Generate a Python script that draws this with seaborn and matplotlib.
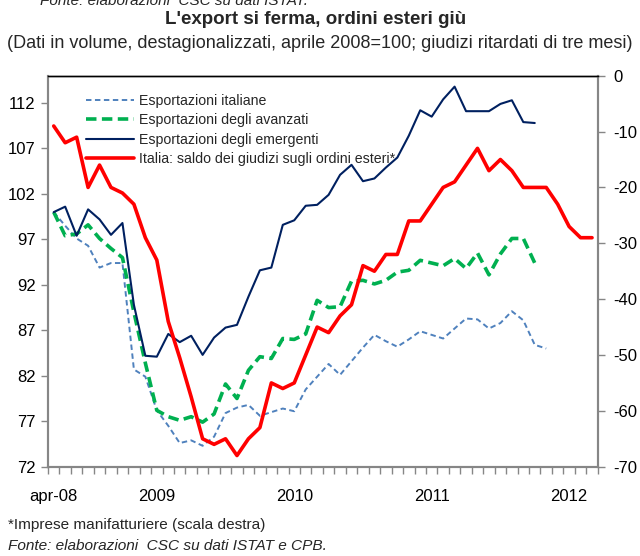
import numpy as np
import pandas as pd
import matplotlib
matplotlib.use("Agg")
import matplotlib.pyplot as plt
import seaborn as sns

# monthly categories apr-08 .. mar-12
months = pd.period_range("2008-04", periods=48, freq="M")
tick_pos = [0, 9, 21, 33, 45]
tick_labels = ["apr-08", "2009", "2010", "2011", "2012"]

exp_italiane = [100, 98.5, 97.1, 96.3, 93.9, 94.4, 94.4, 82.7, 81.9, 78.2,
                76.5, 74.6, 74.9, 74.3, 75.3, 77.9, 78.5, 78.8, 77.6, 78.0,
                78.4, 78.1, 80.5, 81.9, 83.3, 82.1, 83.6, 85.1, 86.5, 85.8,
                85.2, 86.0, 86.9, 86.5, 86.1, 87.2, 88.3, 88.2, 87.2, 87.8,
                89.1, 88.1, 85.4, 85.0]
exp_avanzati = [100, 97.4, 97.6, 98.6, 97.1, 96.0, 95.0, 89.0, 83.4, 78.2,
                77.5, 77.1, 77.5, 76.9, 77.8, 81.1, 79.5, 82.6, 84.1, 83.9,
                86.1, 86.0, 86.6, 90.3, 89.5, 89.6, 92.4, 92.5, 92.1, 92.5,
                93.4, 93.6, 94.7, 94.4, 94.1, 94.9, 93.8, 95.5, 93.1, 95.4,
                97.1, 97.1, 94.4]
exp_emergenti = [100, 100.6, 97.4, 100.3, 99.2, 97.5, 98.8, 89.8, 84.2, 84.1,
                 86.6, 85.7, 86.4, 84.3, 86.2, 87.3, 87.6, 90.7, 93.6, 93.9,
                 98.6, 99.1, 100.7, 100.8, 101.9, 104.1, 105.2, 103.4, 103.7, 104.9,
                 106.0, 108.4, 111.2, 110.5, 112.4, 113.8, 111.1, 111.1, 111.1, 111.9,
                 112.3, 109.9, 109.8]
ordini_esteri = [-9, -12, -11, -20, -16, -20, -21, -23, -29, -33,
                 -44, -50.5, -57.5, -65, -66, -65, -68, -65, -63, -55,
                 -56, -55, -50, -45, -46, -43, -41, -34, -35, -32,
                 -32, -26, -26, -23, -20, -19, -16, -13, -17, -15,
                 -17, -20, -20, -20, -23, -27, -29, -29]

sns.set_theme(style="white")
plt.rcParams["font.family"] = ["Liberation Sans", "DejaVu Sans"]
plt.rcParams["axes.unicode_minus"] = False

GREY = "#868686"
fig = plt.figure(figsize=(6.4, 5.56), dpi=100)
ax = fig.add_axes([0.075, 0.1606, 0.859, 0.7032])
ax2 = ax.twinx()

x_all = np.arange(len(months))
sns.lineplot(x=x_all[:len(exp_italiane)], y=exp_italiane, ax=ax, color="#4F81BD",
             linewidth=1.4, linestyle=(0, (2.8, 1.8)), label="Esportazioni italiane")
sns.lineplot(x=x_all[:len(exp_avanzati)], y=exp_avanzati, ax=ax, color="#00B050",
             linewidth=2.6, linestyle=(0, (2.9, 1.5)), label="Esportazioni degli avanzati")
sns.lineplot(x=x_all[:len(exp_emergenti)], y=exp_emergenti, ax=ax, color="#002060",
             linewidth=1.5, label="Esportazioni degli emergenti")
sns.lineplot(x=x_all, y=ordini_esteri, ax=ax2, color="#FF0000", linewidth=2.6,
             label="Italia: saldo dei giudizi sugli ordini esteri*")

handles = ax.get_legend_handles_labels()[0] + ax2.get_legend_handles_labels()[0]
labels = ax.get_legend_handles_labels()[1] + ax2.get_legend_handles_labels()[1]
ax.get_legend().remove()
ax2.get_legend().remove()
ax2.legend(handles, labels, loc="upper left", bbox_to_anchor=(0.058, 0.968),
           frameon=False, fontsize=10.2, handlelength=3.4, handletextpad=0.4,
           labelspacing=0.38, borderaxespad=0)

ax.set_xlim(-0.5, 47.5)
ax.set_ylim(72, 115)
ax2.set_ylim(-70, 0)
ax.set_yticks(np.arange(72, 113, 5))
ax2.set_yticks(np.arange(-70, 1, 10))
ax.set_xticks(tick_pos)
ax.set_xticklabels(tick_labels)
ax.set_xticks(np.arange(-0.5, 48, 1), minor=True)
ax.set_xlabel("")
ax.set_ylabel("")
ax2.set_ylabel("")

ax.tick_params(axis="x", which="major", length=0, pad=16, labelsize=12, colors="black")
ax.tick_params(axis="x", which="minor", length=5, width=1, color=GREY, bottom=True)
ax.tick_params(axis="y", length=5, width=1, color=GREY, labelsize=12, pad=4,
               left=True, labelcolor="black")
ax2.tick_params(axis="y", length=5, width=1, color=GREY, labelsize=12, pad=6,
                right=True, labelcolor="black")

for a in (ax, ax2):
    a.spines["left"].set_color(GREY)
    a.spines["right"].set_color(GREY)
    a.spines["bottom"].set_color(GREY)
    a.spines["left"].set_linewidth(1.5)
    a.spines["right"].set_linewidth(1.5)
    a.spines["bottom"].set_linewidth(1.5)
    a.spines["top"].set_color("black")
    a.spines["top"].set_linewidth(1.0)

fig.text(40 / 640, 1 - 5 / 556, "Fonte: elaborazioni  CSC su dati ISTAT.",
         fontsize=11, style="italic", ha="left", va="baseline")
fig.text(316 / 640, 1 - 20 / 556, "L'export si ferma, ordini esteri giù",
         fontsize=13.5, fontweight="bold", ha="center", va="center")
fig.text(320 / 640, 1 - 44 / 556,
         "(Dati in volume, destagionalizzati, aprile 2008=100; giudizi ritardati di tre mesi)",
         fontsize=13, ha="center", va="center")
fig.text(8 / 640, 1 - 525 / 556, "*Imprese manifatturiere (scala destra)",
         fontsize=11.1, ha="left", va="center")
fig.text(8 / 640, 1 - 546 / 556, "Fonte: elaborazioni  CSC su dati ISTAT e CPB.",
         fontsize=11.1, style="italic", ha="left", va="center")

fig.savefig("out.png", dpi=100)
